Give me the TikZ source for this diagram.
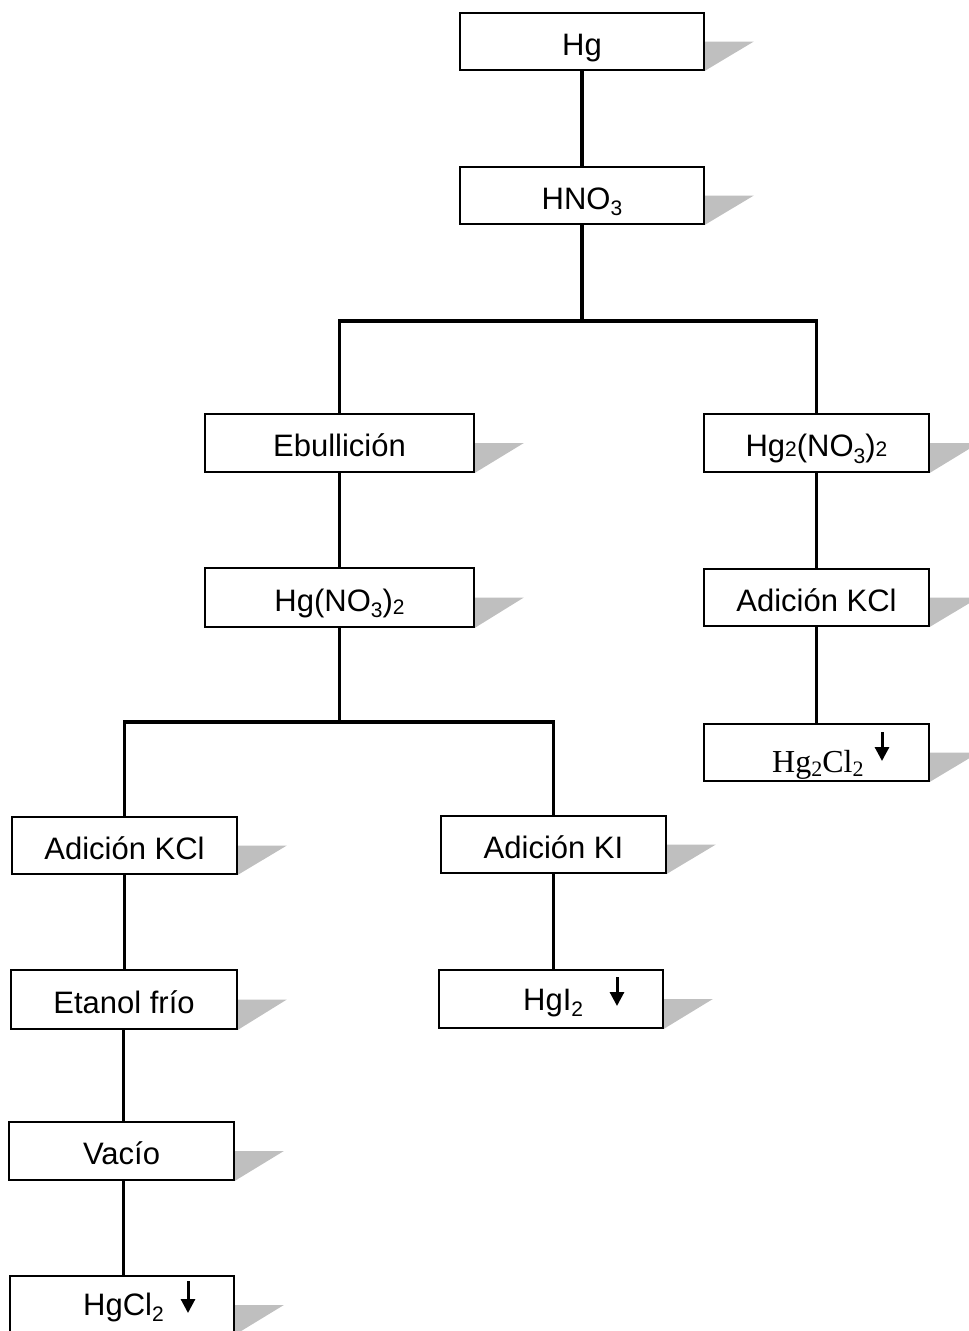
\documentclass[tikz,border=0pt]{standalone}
\usepackage{fontspec}
\setmainfont{Liberation Sans}
\newfontfamily\timesfont{Liberation Serif}
\usetikzlibrary{arrows.meta}
\pgfdeclarelayer{bg}
\pgfsetlayers{bg,main}
\newcommand{\subl}[1]{\raisebox{-0.22em}{\fontsize{21}{24}\selectfont #1}}
\newcommand{\subm}[1]{\raisebox{-0.1em}{\fontsize{21}{24}\selectfont #1}}
\newcommand{\subf}[1]{{\fontsize{21}{24}\selectfont #1}}
\begin{document}
\begin{tikzpicture}[x=1pt,y=-1pt,
  flowbox/.style={draw, line width=1.7pt, fill=white, inner sep=0pt, minimum height=57, text height=27, text depth=0, font=\fontsize{31}{37}\selectfont},
  txt/.style={inner sep=0pt, font=\fontsize{31}{37}\selectfont},
  conn/.style={line width=3.2pt, line join=miter},
  shadowfill/.style={fill=black!25},
  ptarrow/.style={line width=3pt, -{Triangle[length=14,width=14]}}
]
\useasboundingbox (0,0) rectangle (969,1331);
\clip (0,0) rectangle (969,1331);

\node[flowbox, minimum width=244] (hg) at (582,41.5) {Hg};
\node[flowbox, minimum width=244] (hno3) at (582,195.5) {HNO\subl{3}};
\node[flowbox, minimum width=269, minimum height=58] (ebu) at (339.5,443) {Ebullición};
\node[flowbox, minimum width=225, minimum height=58] (hgtwo) at (816.5,443) {Hg\subf{2}(NO\subl{3})\subf{2}};
\node[flowbox, minimum width=269, minimum height=59] (hgno) at (339.5,597.5) {Hg(NO\subl{3})\subm{2}};
\node[flowbox, minimum width=225] (kclr) at (816.5,597.5) {Adición KCl};
\node[flowbox, minimum width=225] (hgcl) at (816.5,752.5) {};
\node[flowbox, minimum width=225] (kcll) at (124.5,845.5) {Adición KCl};
\node[flowbox, minimum width=225] (ki) at (553.5,844.5) {Adición KI};
\node[flowbox, minimum width=226, minimum height=59] (etanol) at (124,999.5) {Etanol frío};
\node[flowbox, minimum width=224, minimum height=58] (hgi) at (551,999) {};
\node[flowbox, minimum width=225, minimum height=58] (vacio) at (121.5,1151) {Vacío};
\node[flowbox, minimum width=224, minimum height=58] (hgcll) at (122,1305) {};

% labels with precipitate arrows
\node[txt, anchor=base west, font=\fontsize{32}{38}\selectfont\timesfont] (thgcl) at (772,772) {Hg\raisebox{-0.15em}{\fontsize{22}{24}\selectfont 2}Cl\raisebox{-0.15em}{\fontsize{22}{24}\selectfont 2}};
\node[txt, anchor=base west] (thgi) at (523,1010) {HgI\subl{2}};
\node[txt, anchor=base west] (thgcll) at (83,1315) {HgCl\subl{2}};
\draw[ptarrow] (882,732) -- (882,761);
\draw[ptarrow] (617,977) -- (617,1006);
\draw[ptarrow] (188,1281) -- (188,1313);

% shadows
\begin{pgfonlayer}{bg}
\foreach \n in {hg,hno3,ebu,hgtwo,hgno,kclr,hgcl,kcll,ki,etanol,hgi,vacio,hgcll}
  \fill[shadowfill] (\n.east) -- ++(49,0) -- (\n.south east) -- cycle;
\end{pgfonlayer}

% connectors
\coordinate (j1) at (582,321);
\coordinate (j2) at (339.5,722);
\coordinate (lc) at (123.5,0);
\draw[conn] (hg) -- (hno3);
\draw[conn] (hno3.south) -- (j1);
\draw[conn] (ebu.north) |- (j1) -| (hgtwo.north);
\draw[conn] (ebu) -- (hgno);
\draw[conn] (hgno.south) -- (j2);
\draw[conn] (kcll.north) |- (j2) -| (ki.north);
\draw[conn] (hgtwo) -- (kclr);
\draw[conn] (kclr) -- (hgcl);
\draw[conn] (ki.south) -- (ki.south |- hgi.north);
\draw[conn] (kcll.south) -- (kcll.south |- etanol.north);
\draw[conn] (lc |- etanol.south) -- (lc |- vacio.north);
\draw[conn] (lc |- vacio.south) -- (lc |- hgcll.north);
\end{tikzpicture}
\end{document}
